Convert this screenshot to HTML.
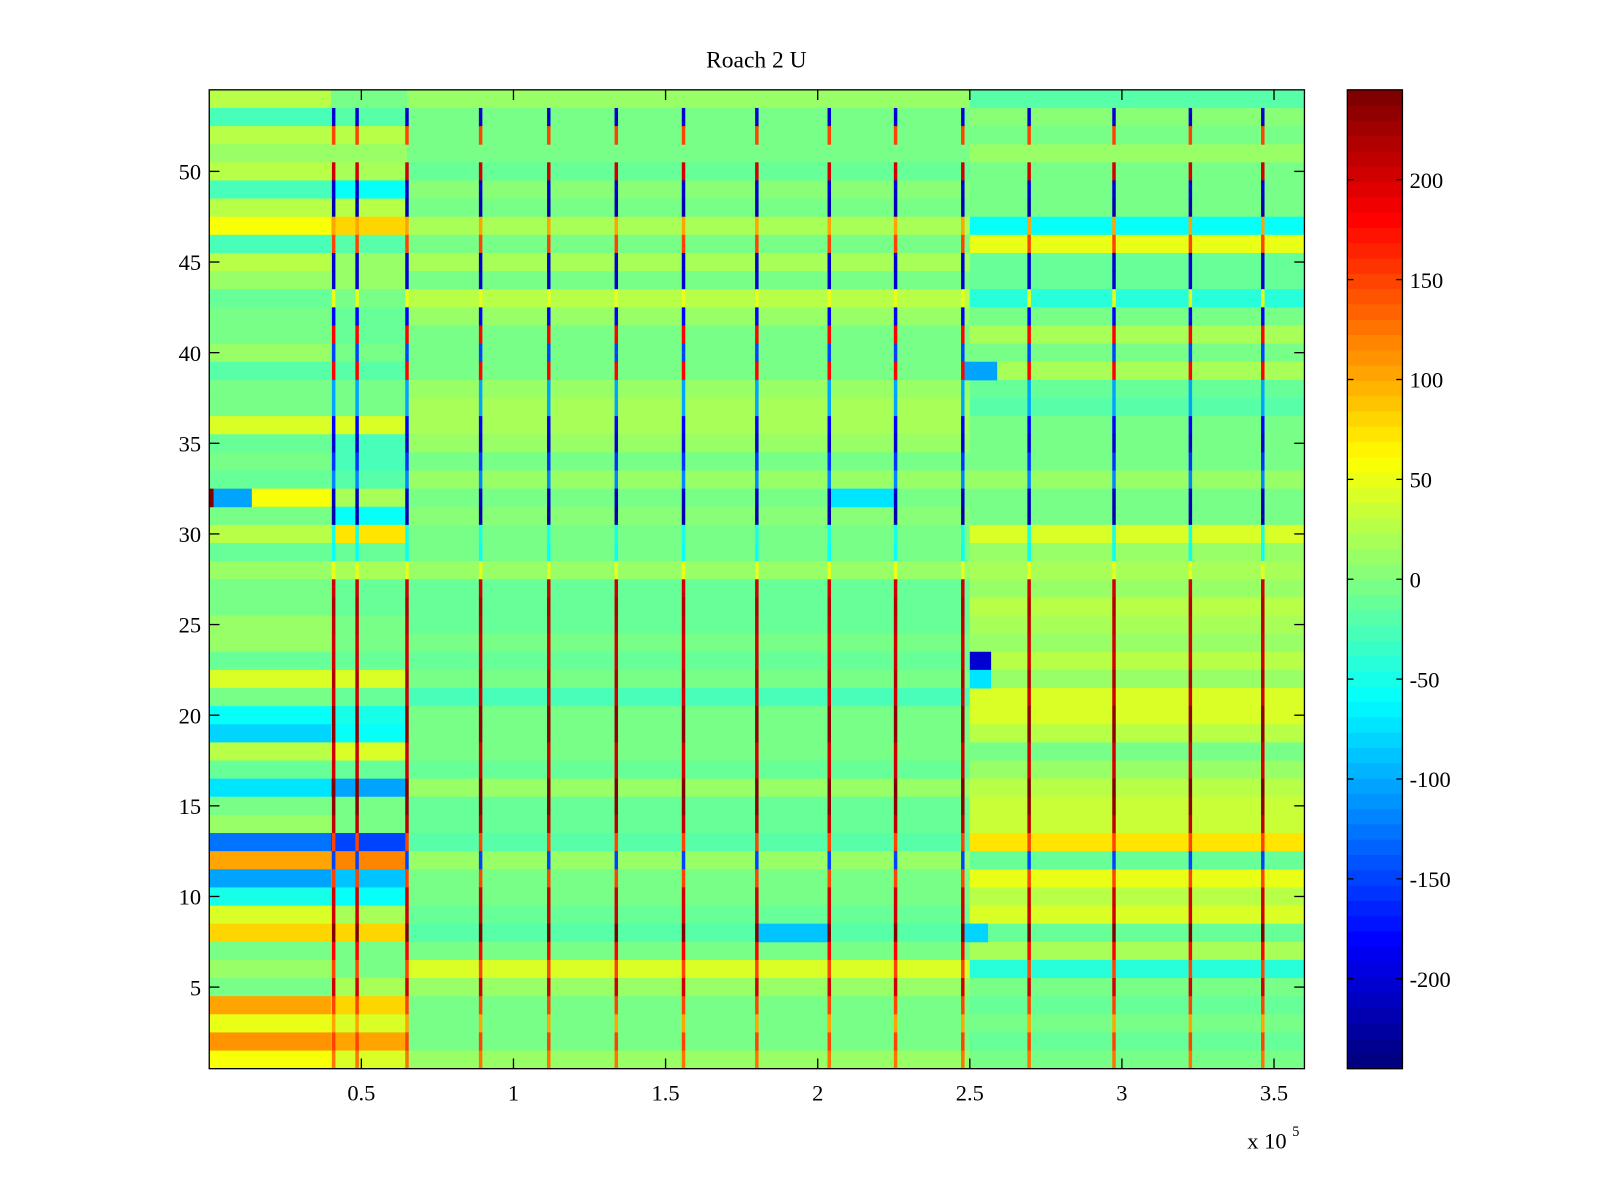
<!DOCTYPE html>
<html><head><meta charset="utf-8"><style>
body{margin:0;background:#fff;}
svg{display:block;font-family:"Liberation Serif",serif;}
</style></head><body>
<svg id="chart" width="1600" height="1200" viewBox="0 0 1600 1200">
<g transform="scale(1.0207)">
<text x="741" y="66" font-size="23" text-anchor="middle">Roach 2 U</text>
<g id="cells"></g>
<g id="axes"></g>
<g id="cbar"></g>
</g>
</svg>
<script>
// rows listed from top (row 54) to bottom (row 1)
const rowsTopDown = [54,53,52,51,50,49,48,47,46,45,44,43,42,41,40,39,38,37,36,35,34,33,32,31,30,29,28,27,26,25,24,23,22,21,20,19,18,17,16,15,14,13,12,11,10,9,8,7,6,5,4,3,2,1];
const segEdges = [0, 40000, 65000, 250000, 360000];
const segA = [30,-30,25,15,25,-30,25,60,-30,30,15,-10,0,-5,10,-20,0,-5,40,-10,0,-10,60,0,30,-10,10,0,0,10,10,-10,40,0,-60,-80,30,-10,-70,0,10,-130,100,-100,-50,40,80,0,10,0,100,50,110,60];
const segB = [0,-20,30,10,20,-60,30,80,-20,10,10,0,-10,-10,0,-20,0,0,40,-30,-30,-20,20,-60,70,-10,20,-10,-10,0,0,-10,40,-10,-50,-60,40,-10,-100,0,0,-150,120,-90,-60,20,80,0,0,20,80,40,100,40];
const segC = [10,0,-5,0,-10,5,0,20,-5,20,0,30,15,0,0,0,10,20,20,10,0,10,0,5,0,0,10,-10,-15,-10,0,-10,0,-30,-5,0,0,-10,10,-10,-10,-20,10,0,0,-10,-20,0,40,10,0,0,0,10];
const segD = [-20,5,0,10,0,-5,0,-55,50,-10,-10,-40,0,20,-5,20,-15,-20,-5,0,0,10,0,0,40,10,20,10,25,20,10,25,10,40,40,30,0,10,30,35,35,70,-10,50,25,40,-10,20,-40,0,-10,0,-10,0];
const stripeX = [40900,48600,65000,89200,111600,133800,155900,180000,203800,225600,247700,269500,297400,322500,346300];
const stripeVal = [0,-200,150,0,200,-200,-220,100,150,-200,-200,50,-180,180,-150,180,-100,-100,-180,-200,-160,-120,-210,-220,-50,-60,50,200,220,210,200,200,220,200,230,230,200,200,240,230,210,150,-150,150,200,200,240,180,150,200,150,100,150,130];
const blobRow = [32,32,32,8,23,22,39,8];
const blobX0 = [0,1500,204000,180000,250000,250000,248000,248000];
const blobX1 = [1500,14000,226000,204000,257000,257000,259000,256000];
const blobVal = [245,-100,-70,-90,-200,-70,-100,-80];
const cbTicks = [-200,-150,-100,-50,0,50,100,150,200];
const xTicks = [50000,100000,150000,200000,250000,300000,350000];
const xTickLabels = ["0.5","1","1.5","2","2.5","3","3.5"];
const yTicks = [5,10,15,20,25,30,35,40,45,50];

const L=205,R=1278,T=88,B=1047, CMIN=-245, CMAX=245;
const xs = d => L + d*(R-L)/360000;
const ys = r => B - (r-0.5)*(B-T)/54;
function jet(v){
  let t=(v-CMIN)/(CMAX-CMIN); t=Math.max(0,Math.min(1,t)); t=Math.floor(t*63.999)/63;
  const c=x=>Math.round(255*Math.max(0,Math.min(1,x)));
  return `rgb(${c(1.5-Math.abs(4*t-3))},${c(1.5-Math.abs(4*t-2))},${c(1.5-Math.abs(4*t-1))})`;
}
const NS="http://www.w3.org/2000/svg";
function rect(g,x,y,w,h,fill){const r=document.createElementNS(NS,'rect');r.setAttribute('x',x);r.setAttribute('y',y);r.setAttribute('width',w);r.setAttribute('height',h);r.setAttribute('fill',fill);g.appendChild(r);return r;}
function line(g,x1,y1,x2,y2){const l=document.createElementNS(NS,'line');l.setAttribute('x1',x1);l.setAttribute('y1',y1);l.setAttribute('x2',x2);l.setAttribute('y2',y2);l.setAttribute('stroke','#000');l.setAttribute('stroke-width','1.3');g.appendChild(l);return l;}
function text(g,x,y,s,anchor,size){const t=document.createElementNS(NS,'text');t.setAttribute('x',x);t.setAttribute('y',y);t.setAttribute('font-size',size||22);t.setAttribute('text-anchor',anchor);t.textContent=s;g.appendChild(t);return t;}
const cells=document.getElementById('cells');
const segs=[segA,segB,segC,segD];
rowsTopDown.forEach((row,i)=>{
  const y0=ys(row+0.5), y1=ys(row-0.5);
  segs.forEach((arr,k)=>{
    const r=rect(cells,xs(segEdges[k]),y0,xs(segEdges[k+1])-xs(segEdges[k])+0.5,y1-y0+0.5,jet(arr[i]));
    
    
  });
});
blobRow.forEach((row,i)=>{
  const y0=ys(row+0.5), y1=ys(row-0.5);
  const r=rect(cells,xs(blobX0[i]),y0,xs(blobX1[i])-xs(blobX0[i]),y1-y0+0.5,jet(blobVal[i]));
  
  
});
rowsTopDown.forEach((row,i)=>{
  if(stripeVal[i]===0) return;
  const y0=ys(row+0.5), y1=ys(row-0.5);
  stripeX.forEach(sx=>{
    const r=rect(cells,xs(sx)-1.7,y0,3.4,y1-y0+0.5,jet(stripeVal[i]));
    
    
  });
});
const ax=document.getElementById('axes');
const fr=rect(ax,L,T,R-L,B-T,'none');fr.setAttribute('stroke','#000');fr.setAttribute('stroke-width','1.3');
xTicks.forEach((d,i)=>{
  const x=xs(d);line(ax,x,B,x,B-10);line(ax,x,T,x,T+10);
  const t=text(ax,x,1078,xTickLabels[i],'middle');
  
  
});
yTicks.forEach(v=>{
  const y=ys(v);line(ax,L,y,L+10,y);line(ax,R,y,R-10,y);
  const t=text(ax,197,y+8,String(v),'end');
  
  
});
const ex=text(ax,1222,1125,'x 10','start');


const ex2=text(ax,1266,1113,'5','start',14);


const cb=document.getElementById('cbar');
const CL=1320,CR=1374;
for(let k=0;k<64;k++){
  const v0=CMIN+(CMAX-CMIN)*k/64, v1=CMIN+(CMAX-CMIN)*(k+1)/64;
  const yv=v=>B-(v-CMIN)/(CMAX-CMIN)*(B-T);
  const r=rect(cb,CL,yv(v1),CR-CL,yv(v0)-yv(v1)+0.5,jet((v0+v1)/2));
  
  
}
const cf=rect(cb,CL,T,CR-CL,B-T,'none');cf.setAttribute('stroke','#000');cf.setAttribute('stroke-width','1.3');
cbTicks.forEach(v=>{
  const y=B-(v-CMIN)/(CMAX-CMIN)*(B-T);
  line(cb,CL,y,CL+6,y);line(cb,CR,y,CR-6,y);
  const t=text(cb,1381,y+8,String(v),'start');
  
  
});
</script>
</body></html>
